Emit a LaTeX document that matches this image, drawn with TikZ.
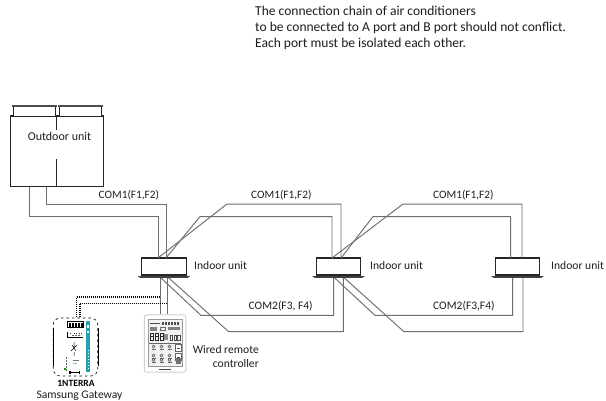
\documentclass[tikz,border=0pt]{standalone}
\usepackage{fontspec}
\setmainfont{Carlito}
\usetikzlibrary{calc}
\definecolor{wirec}{HTML}{6E6E6E}
\definecolor{txt}{HTML}{1E1E1E}
\definecolor{tealc}{HTML}{1FA3B5}
\tikzset{
  wire/.style={draw=wirec,line width=0.95pt,line join=miter},
  dots/.style={draw=black,line width=1.1pt,dash pattern=on 1pt off 1pt},
  unitbody/.style={draw=black!85,line width=1.1pt,fill=white},
  lab/.style={inner sep=0pt,text=txt,font=\fontsize{11.6}{14}\selectfont},
  notelab/.style={lab,font=\fontsize{13.55}{15}\selectfont},
  comone/.style={lab,font=\fontsize{11.3}{14}\selectfont},
  comtwo/.style={lab,font=\fontsize{11.5}{14}\selectfont},
  indoor/.style={minimum width=44.5pt,minimum height=17pt,inner sep=0pt,unitbody,rectangle}
}
\newcommand{\flange}[1]{%
  \fill[black!75] ($(#1.south west)+(-3.5,0.5)$) -- ($(#1.south east)+(3.5,0.5)$) -- ($(#1.south east)+(1,2.3)$) -- ($(#1.south west)+(-1,2.3)$) -- cycle;}
\begin{document}
\begin{tikzpicture}[x=1pt,y=-1pt]
\useasboundingbox[fill=white] (0,0) rectangle (606,401);
% top note
\node[notelab,anchor=base west] (n1) at (255,15.5) {The connection chain of air conditioners};
\node[notelab,anchor=base west] (n2) at (255,32) {to be connected to A port and B port should not conflict.};
\node[notelab,anchor=base west] (n3) at (255,48) {Each port must be isolated each other.};
% indoor units
\node[indoor] (i1) at (163.9,266.5) {};
\node[indoor] (i2) at (338.5,266.5) {};
\node[indoor] (i3) at (517.5,266.5) {};
% outdoor unit
\node[draw=black!85,line width=1.1pt,fill=white,minimum width=93.5pt,minimum height=70.5pt,inner sep=0pt] (od) at (57,151.3) {};
% ports
\coordinate (oa) at (29,186.6);
\coordinate (ob) at (46,186.6);
\coordinate (i1ta) at (158,258);
\coordinate (i1tb) at (166,258);
\coordinate (i1ba) at (160,277);
\coordinate (i1bb) at (167.7,277);
\coordinate (i2ta) at (332,258);
\coordinate (i2tb) at (341,258);
\coordinate (i2ba) at (333.7,277);
\coordinate (i2bb) at (343.3,277);
\coordinate (i3ta) at (510.7,258);
\coordinate (i3tb) at (522,258);
\coordinate (i3ba) at (512.7,277);
\coordinate (i3bb) at (523,277);
% outdoor to first indoor
\draw[wire] (oa) -- (29,216.4) -- (158,216.4) -- (i1ta);
\draw[wire] (ob) -- (46,204.2) -- (166,204.2) -- (i1tb);
% COM1 chain
\draw[wire] (i1ta) -- (226.7,204.2) -- (341,204.2) -- (i2tb);
\draw[wire] (i1tb) -- (200,216.6) -- (332,216.6) -- (i2ta);
\draw[wire] (i2ta) -- (402.7,204.2) -- (522,204.2) -- (i3tb);
\draw[wire] (i2tb) -- (373,216.6) -- (510.7,216.6) -- (i3ta);
% COM2 chain
\draw[wire] (i1ba) -- (201,315.4) -- (333.7,315.4) -- (i2ba);
\draw[wire] (i1bb) -- (228.7,331.7) -- (343.3,331.7) -- (i2bb);
\draw[wire] (i2ba) -- (375,315.4) -- (512.7,315.4) -- (i3ba);
\draw[wire] (i2bb) -- (404,331.7) -- (523,331.7) -- (i3bb);
% remote and gateway nodes
\node[draw=black!18,line width=1pt,rounded corners=2pt,fill=white,minimum width=41.5pt,minimum height=57pt,inner sep=0pt] (rc) at (165,343.5) {};
\draw[wire] (i1ba) -- (rc.north -| i1ba);
\draw[wire] (i1bb) -- (rc.north -| i1bb);
\node[draw=black,line width=0.6pt,dash pattern=on 2.5pt off 3pt,rounded corners=7pt,fill=white,minimum width=44.5pt,minimum height=58pt,inner sep=0pt] (gw) at (75.5,347) {};
\draw[black,line width=0.7pt] (gw.west |- 0,328) -- (gw.west |- 0,366);
\draw[black,line width=0.7pt] (gw.east |- 0,328) -- (gw.east |- 0,366);
% dotted bus
\draw[dots] (76.7,317) -- (76.7,297) -- (160,297);
\draw[dots] (80,317) -- (80,303.3) -- (167.7,303.3);
% unit flanges
\flange{i1}\flange{i2}\flange{i3}
% outdoor details
\draw[black!85,line width=0.8pt] (56.5,116) -- (56.5,130);
\draw[black!85,line width=0.8pt] (56.5,159) -- (56.5,186.6);
\foreach \xa/\xb in {13.5/55,59/101}{
  \draw[black!85,line width=0.8pt,fill=white] (\xa,116) -- (\xa,106.5) -- (\xb,106.5) -- (\xb,116);
  \fill[black!70] (\xa-1.5,105) rectangle (\xb+1.5,106.8);
}
\draw[black!85,line width=0.8pt] (55,116) -- (59,116);
% labels
\node[lab,anchor=center,font=\fontsize{12}{14}\selectfont] (odl) at (59.5,136) {Outdoor unit};
\node[comone,anchor=base west] (c1) at (98.5,199) {COM1(F1,F2)};
\node[comone,anchor=base west] (c2) at (251,199) {COM1(F1,F2)};
\node[comone,anchor=base west] (c3) at (433,199) {COM1(F1,F2)};
\node[comtwo,anchor=base west] (c4) at (248.5,309.5) {COM2(F3, F4)};
\node[comtwo,anchor=base west] (c5) at (433,309.5) {COM2(F3,F4)};
\node[lab,anchor=base west] (il1) at (194,270) {Indoor unit};
\node[lab,anchor=base west] (il2) at (370,270) {Indoor unit};
\node[lab,anchor=base west] (il3) at (551,270) {Indoor unit};
\node[lab,anchor=base east] (w1) at (259,353) {Wired remote};
\node[lab,anchor=base east] (w2) at (259,367) {controller};
\node[lab,anchor=base] (sg) at (79.5,398) {Samsung Gateway};
\node[lab,anchor=base,font=\bfseries\fontsize{9.6}{10}\selectfont,text=black] (int) at (76,386) {1NTERRA};
% gateway face
\fill[tealc] (85.7,321) rectangle (90,372);
\fill[white] (86.8,325) rectangle (88.6,328);
\fill[white] (86.8,331) rectangle (88.6,333);
\draw[white,line width=0.3pt,dash pattern=on 1pt off 2pt] (87.7,350) -- (87.7,370);
\draw[black,line width=0.5pt] (67,321.5) rectangle (83.5,327.5);
\foreach \x in {68.5,71.5,75,78,81}{\fill[black] (\x,322.5) rectangle +(2,4);}
\fill[black] (67,332) rectangle +(1.4,5);
\foreach \x in {70,73.5,76,79,81}{\fill[black!80] (\x,333) rectangle +(1.4,1.4);}
\draw[black,line width=0.5pt] (67,337.5) -- (83,337.5);
\foreach \x in {72,75,78}{\fill[black!60] (\x,335) rectangle +(1.6,1);}
\draw[black,line width=0.5pt] (71,351) -- (77,345) (72,345) -- (76,351) (74,342) -- (74,348) (74,352) -- (74,356);
\foreach \y in {357,360,363,366,369}{\fill[black!60] (65.5,\y) rectangle +(1.2,1.6);}
\fill[black!55] (73,360) rectangle +(6,1);
\fill[tealc!60] (73,363) rectangle +(4,1.4);
\fill[green!60!black] (64,368) rectangle +(2,2);
\draw[black,line width=0.4pt] (69,372.5) -- (80,372.5);
\fill[black] (69,371) rectangle +(1.5,3);
\fill[black] (78.5,371) rectangle +(1.5,3);
% remote face
\draw[black!40,line width=0.4pt,fill=black!5] (148,319) rectangle (182,366);
\draw[black!70,line width=0.4pt] (150,323.5) -- (160,323.5);
\foreach \x in {162,165,168,171,174,177}{\fill[black!70] (\x,322) rectangle +(2,2.8);}
\fill[black!50] (150,327) rectangle +(7,4);
\draw[black!60,line width=0.3pt] (160,327) rectangle +(5,3);
\fill[black!50] (168,327) rectangle +(12,2.5);
\foreach \x in {150,155,160}{\draw[black!85,line width=0.7pt] (\x,333) rectangle +(3.6,7);\draw[black!85,line width=0.4pt] (\x,336.5) -- +(3.6,0);}
\fill[black!45] (164,334) rectangle +(4,6);
\foreach \x in {170,174,177.5}{\draw[black!70,line width=0.5pt] (\x,335) rectangle +(2.6,5);}
\draw[black!60,line width=0.3pt] (149,343) -- (181,343);
\foreach \y in {344.5,353.5}{
  \foreach \x in {152,160,168}{
    \draw[black!70,line width=0.5pt] (\x+1.5,\y+2) circle (1.6);
    \fill[black!60] (\x-0.5,\y+4.4) rectangle +(4,1);
  }
  \draw[black!60,line width=0.3pt,fill=white] (175.5,\y) rectangle +(5.5,7);
  \draw[black!70,line width=0.4pt] (176.8,\y+3.5) -- +(3,0);
}
\foreach \x in {152,160,168}{
  \draw[black!70,line width=0.5pt] (\x+1.5,360) circle (1.6);
  \fill[black!60] (\x-0.5,362.4) rectangle +(4,1);
}
\fill[black!55] (175.5,358) rectangle +(5.5,6);
\fill[black!70] (159,368.6) rectangle +(12,1.2);
\end{tikzpicture}
\end{document}
